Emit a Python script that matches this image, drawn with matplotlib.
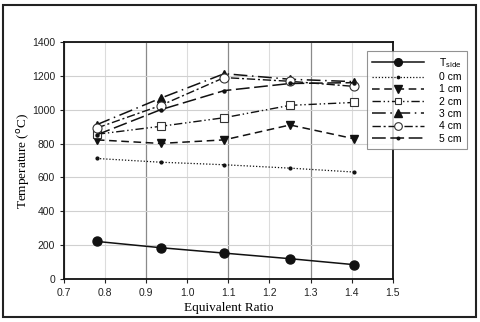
import matplotlib
matplotlib.use("Agg")
import matplotlib.pyplot as plt
from matplotlib.patches import Rectangle

ratio = [0.78, 0.935, 1.09, 1.25, 1.405]
t_side = [222, 185, 153, 120, 85]
t_0cm = [712, 690, 675, 655, 632]
t_1cm = [822, 801, 822, 910, 829]
t_2cm = [855, 902, 953, 1026, 1043]
t_3cm = [912, 1068, 1213, 1180, 1166]
t_4cm = [892, 1025, 1190, 1168, 1138]
t_5cm = [852, 1000, 1113, 1155, 1160]

labels = ["T$_{\\mathrm{side}}$", "0 cm", "1 cm", "2 cm", "3 cm", "4 cm", "5 cm"]
xticks = [0.7, 0.8, 0.9, 1.0, 1.1, 1.2, 1.3, 1.4, 1.5]
yticks = [0, 200, 400, 600, 800, 1000, 1200, 1400]

plt.rcParams['font.family'] = ['Liberation Sans', 'DejaVu Sans']

fig = plt.figure(figsize=(4.8, 3.22), dpi=100)
ax = fig.add_axes([0.1333, 0.1335, 0.685, 0.736])

c = '#111111'
series = [
    (t_side, dict(linestyle='-', marker='o', ms=6.5, mfc=c, mec=c, lw=1.1)),
    (t_0cm, dict(linestyle=(0, (1, 1.5)), marker='o', ms=2, mfc=c, mec=c, lw=0.9)),
    (t_1cm, dict(linestyle=(0, (5, 3)), marker='v', ms=6, mfc=c, mec=c, lw=1.1)),
    (t_2cm, dict(linestyle=(0, (6, 2, 1, 2, 1, 2)), marker='s', ms=5.5, mfc='white', mec='#333333', mew=0.8, lw=1.0)),
    (t_3cm, dict(linestyle=(0, (9, 3, 1, 3)), marker='^', ms=6, mfc=c, mec=c, lw=1.1)),
    (t_4cm, dict(linestyle=(0, (6, 2, 1.5, 2)), marker='o', ms=6.5, mfc='white', mec='#333333', mew=0.8, lw=1.0)),
    (t_5cm, dict(linestyle=(0, (9, 3)), marker='o', ms=2.2, mfc=c, mec=c, lw=1.1)),
]
for (vals, kw), lab in zip(series, labels):
    ax.plot(ratio, vals, color=c, label=lab, **kw)

ax.set_xlim(0.7, 1.5)
ax.set_ylim(0, 1400)
ax.set_xticks(xticks)
ax.set_xticklabels([f"{v:.1f}" for v in xticks])
ax.set_yticks(yticks)
ax.tick_params(labelsize=7.5, length=3, width=0.8, direction='out', colors='#222222')
ax.set_axisbelow(True)
for v in xticks:
    if round(v * 10) % 2 == 1:
        ax.axvline(v, color='#8a8a8a', lw=0.9, zorder=0)
    else:
        ax.axvline(v, color='#dcdcdc', lw=0.8, zorder=0)
ax.yaxis.grid(True, color='#d0d0d0', lw=0.8)
for s in ax.spines.values():
    s.set_linewidth(1.3)
    s.set_color('#111111')

ax.set_xlabel("Equivalent Ratio", family=['Liberation Serif'], fontsize=9.5, labelpad=3)
ax.set_ylabel("Temperature ($^{\\mathrm{o}}$C)", family=['Liberation Serif'], fontsize=9.5, labelpad=0)

leg = ax.legend(loc='upper left', bbox_to_anchor=(0.765, 0.842), bbox_transform=fig.transFigure,
                fontsize=7.5, handlelength=5.0, numpoints=1, frameon=True, fancybox=False,
                borderpad=0.5, labelspacing=0.22, handletextpad=1.4, borderaxespad=0,
                markerscale=0.85)
leg.get_frame().set_edgecolor('#777777')
leg.get_frame().set_linewidth(0.8)

fig.patches.append(Rectangle((0.007, 0.015), 0.985, 0.97, transform=fig.transFigure,
                             fill=False, edgecolor='#222222', lw=1.5))

fig.savefig("out.png", dpi=100)
